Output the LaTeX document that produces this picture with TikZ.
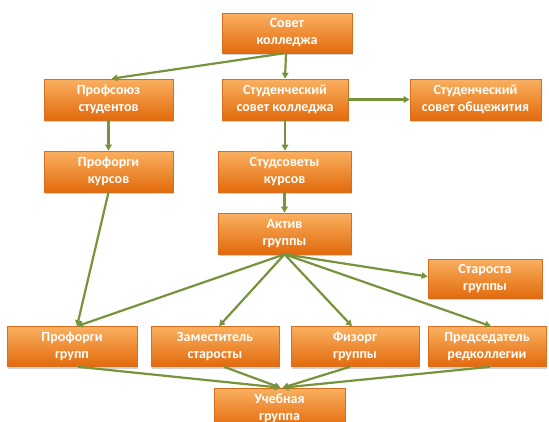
\documentclass[tikz,border=0pt]{standalone}
\usepackage{fontspec}
\setmainfont{Carlito}
\usetikzlibrary{arrows.meta,shadows}
\definecolor{boxtop}{RGB}{250,176,96}
\definecolor{boxbot}{RGB}{226,106,12}
\definecolor{boxedge}{RGB}{214,110,30}
\definecolor{linkgreen}{RGB}{119,147,60}
\tikzset{
  orgbox/.style={draw=boxedge, line width=0.6pt, top color=boxtop, bottom color=boxbot,
    text=white, font=\fontsize{14}{17}\selectfont\bfseries, align=center,
    inner sep=0pt, drop shadow={opacity=0.35, shadow xshift=1pt, shadow yshift=-2pt}},
  link/.style={draw=linkgreen, line width=2.2pt, -{Triangle[length=6pt,width=6.5pt]}}
}
\begin{document}
\begin{tikzpicture}[x=1pt,y=-1pt]
\useasboundingbox (0,0) rectangle (549,421);
\fill[white] (0,0) rectangle (549,421);
\clip (0,0) rectangle (549,421);
\node[orgbox, minimum width=130pt, minimum height=40pt] (sovet) at (287,33) {Совет\\колледжа};
\node[orgbox, minimum width=129pt, minimum height=41pt] (profs) at (108.5,99.5) {Профсоюз\\студентов};
\node[orgbox, minimum width=126pt, minimum height=41pt] (sscol) at (285,99.5) {Студенческий\\совет колледжа};
\node[orgbox, minimum width=131pt, minimum height=41pt] (ssobs) at (475.5,99.5) {Студенческий\\совет общежития};
\node[orgbox, minimum width=129pt, minimum height=41pt] (prk) at (108.5,171.5) {Профорги\\курсов};
\node[orgbox, minimum width=133pt, minimum height=41pt] (stk) at (284.5,171.5) {Студсоветы\\курсов};
\node[orgbox, minimum width=133pt, minimum height=41pt] (aktiv) at (284.5,233.5) {Актив\\группы};
\node[orgbox, minimum width=114pt, minimum height=39pt] (star) at (485,278.5) {Староста\\группы};
\node[orgbox, minimum width=130pt, minimum height=40pt] (prg) at (72,346.5) {Профорги\\групп};
\node[orgbox, minimum width=128pt, minimum height=40pt] (zam) at (215,346.5) {Заместитель\\старосты};
\node[orgbox, minimum width=128pt, minimum height=40pt] (fiz) at (355,346.5) {Физорг\\группы};
\node[orgbox, minimum width=118pt, minimum height=40pt] (pred) at (487,346.5) {Председатель\\редколлегии};
\node[orgbox, minimum width=131pt, minimum height=40pt] (ucheb) at (279.5,408) {Учебная\\группа};
\draw[link] ([xshift=-3pt]sovet.south) -- ([xshift=3pt]profs.north);
\draw[link] ([xshift=-1pt]sovet.south) -- (sscol.north);
\draw[link] (sscol.east) -- (ssobs.west);
\draw[link] (profs.south) -- (prk.north);
\draw[link] (sscol.south) -- ([xshift=0.5pt]stk.north);
\draw[link] (stk.south) -- (aktiv.north);
\draw[link] (prk.south) -- ([xshift=5pt]prg.north);
\draw[link] (aktiv.south) -- ([xshift=5pt]prg.north);
\draw[link] (aktiv.south) -- ([xshift=4pt]zam.north);
\draw[link] (aktiv.south) -- ([xshift=-3pt]fiz.north);
\draw[link] (aktiv.south) -- ([yshift=2pt]star.west);
\draw[link] (aktiv.south) -- ([xshift=4pt]pred.north);
\draw[link] ([xshift=6pt]prg.south) -- ([xshift=1pt]ucheb.north);
\draw[link] ([xshift=9pt]zam.south) -- ([xshift=1pt]ucheb.north);
\draw[link] ([xshift=-5pt]fiz.south) -- ([xshift=3pt]ucheb.north);
\draw[link] ([xshift=3pt]pred.south) -- ([xshift=3pt]ucheb.north);
\end{tikzpicture}
\end{document}
